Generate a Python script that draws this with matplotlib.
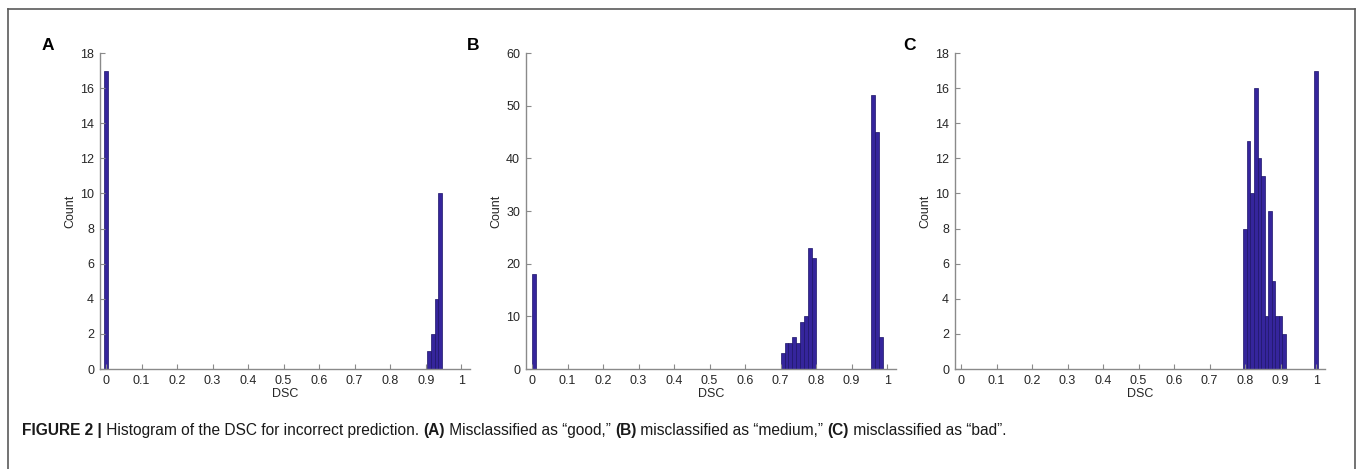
import matplotlib
matplotlib.use("Agg")
import matplotlib.pyplot as plt
from matplotlib.lines import Line2D
import numpy as np

plt.rcParams['font.family'] = ['Liberation Sans', 'DejaVu Sans']

# ---------------- data ----------------
# Panel A: bin width 0.01, bins centred on listed values
a_centers = [0.00, 0.91, 0.92, 0.93, 0.94]
a_counts = [17, 1, 2, 4, 10]
a_width = 0.01

# Panel B: bin width 1/90, bins start at index*(1/90)
b_bin_index = [0, 63, 64, 65, 66, 67, 68, 69, 70, 71, 86, 87, 88]
b_counts = [18, 3, 5, 5, 6, 5, 9, 10, 23, 21, 52, 45, 6]
b_width = 1 / 90

# Panel C: bin width 0.01, bins centred on listed values
c_centers = [0.80, 0.81, 0.82, 0.83, 0.84, 0.85, 0.86, 0.87, 0.88, 0.89, 0.90, 0.91, 1.00]
c_counts = [8, 13, 10, 16, 12, 11, 3, 9, 5, 3, 3, 2, 17]
c_width = 0.01

x_ticks = [0, 0.1, 0.2, 0.3, 0.4, 0.5, 0.6, 0.7, 0.8, 0.9, 1]
x_ticklabels = ["0", "0.1", "0.2", "0.3", "0.4", "0.5", "0.6", "0.7", "0.8", "0.9", "1"]
panel_letters = ["A", "B", "C"]
y_max = [18, 60, 18]
y_step = [2, 10, 2]
x_label = "DSC"
y_label = "Count"

W, H = 1358, 469
fig = plt.figure(figsize=(W / 100, H / 100), dpi=100)

BAR = '#35259c'
EDGE = '#1c1468'
AX = '#8a8a8a'
TXT = '#262626'

def px_ax(x0, x1, ytop, ybot):
    return fig.add_axes([x0 / W, 1 - ybot / H, (x1 - x0) / W, (ybot - ytop) / H])

axes_px = [(99.6, 470.1), (525.6, 896.0), (954.6, 1325.0)]
axs = [px_ax(x0, x1, 53, 369) for (x0, x1) in axes_px]

# bars
axs[0].bar(a_centers, a_counts, width=a_width, align='center', color=BAR, edgecolor=EDGE, linewidth=0.5)
b_left = [i * b_width for i in b_bin_index]
axs[1].bar(b_left, b_counts, width=b_width, align='edge', color=BAR, edgecolor=EDGE, linewidth=0.5)
axs[2].bar(c_centers, c_counts, width=c_width, align='center', color=BAR, edgecolor=EDGE, linewidth=0.5)

for i, ax in enumerate(axs):
    ax.set_xlim(-0.018, 1.025)
    ax.set_ylim(0, y_max[i])
    ax.set_xticks(x_ticks)
    ax.set_xticklabels(x_ticklabels)
    ax.set_yticks(np.arange(0, y_max[i] + 0.1, y_step[i]))
    for s in ['top', 'right']:
        ax.spines[s].set_visible(False)
    for s in ['left', 'bottom']:
        ax.spines[s].set_color(AX)
        ax.spines[s].set_linewidth(1.0)
    ax.tick_params(direction='in', length=3.5, width=0.8, color=AX,
                   labelsize=9, labelcolor=TXT, pad=4)
    ax.set_xlabel(x_label, fontsize=9, color=TXT)
    ax.xaxis.set_label_coords(0.5, -0.078)
    ax.xaxis.label.set_va('center')
    ax.set_ylabel(y_label, fontsize=9, color=TXT)
    ax.yaxis.set_label_coords(-0.08, 0.5)
    ax.yaxis.label.set_va('center')
    ax.patch.set_alpha(0)

# panel letters
for (x, y), L in zip([(48, 45), (473, 45), (910, 45)], panel_letters):
    fig.text(x / W, 1 - y / H, L, fontsize=12.5, fontweight='bold', ha='center', va='center', color='black')

# frame
fc = '#5a5a5a'
fig.add_artist(Line2D([7.5 / W, 7.5 / W], [0, 1 - 9 / H], transform=fig.transFigure, color=fc, lw=1.2))
fig.add_artist(Line2D([7.5 / W, 1354.5 / W], [1 - 9 / H, 1 - 9 / H], transform=fig.transFigure, color=fc, lw=1.2))
fig.add_artist(Line2D([1354.5 / W, 1354.5 / W], [0, 1 - 9 / H], transform=fig.transFigure, color=fc, lw=1.2))

# caption with mixed weights
caption = [
    ("FIGURE 2 |", 'bold'),
    (" Histogram of the DSC for incorrect prediction. ", 'normal'),
    ("(A)", 'bold'),
    (" Misclassified as \u201cgood,\u201d ", 'normal'),
    ("(B)", 'bold'),
    (" misclassified as \u201cmedium,\u201d ", 'normal'),
    ("(C)", 'bold'),
    (" misclassified as \u201cbad\u201d.", 'normal'),
]
cap_family = ['Liberation Sans', 'DejaVu Sans']
fig.canvas.draw()
renderer = fig.canvas.get_renderer()
x = 22
ycap = 1 - 430 / H
for txt, wt in caption:
    t = fig.text(x / W, ycap, txt, fontsize=11.2, fontweight=wt, family=cap_family,
                 ha='left', va='center', color='#1a1a1a')
    bb = t.get_window_extent(renderer=renderer)
    x += bb.width

fig.savefig('out.png', dpi=100)
